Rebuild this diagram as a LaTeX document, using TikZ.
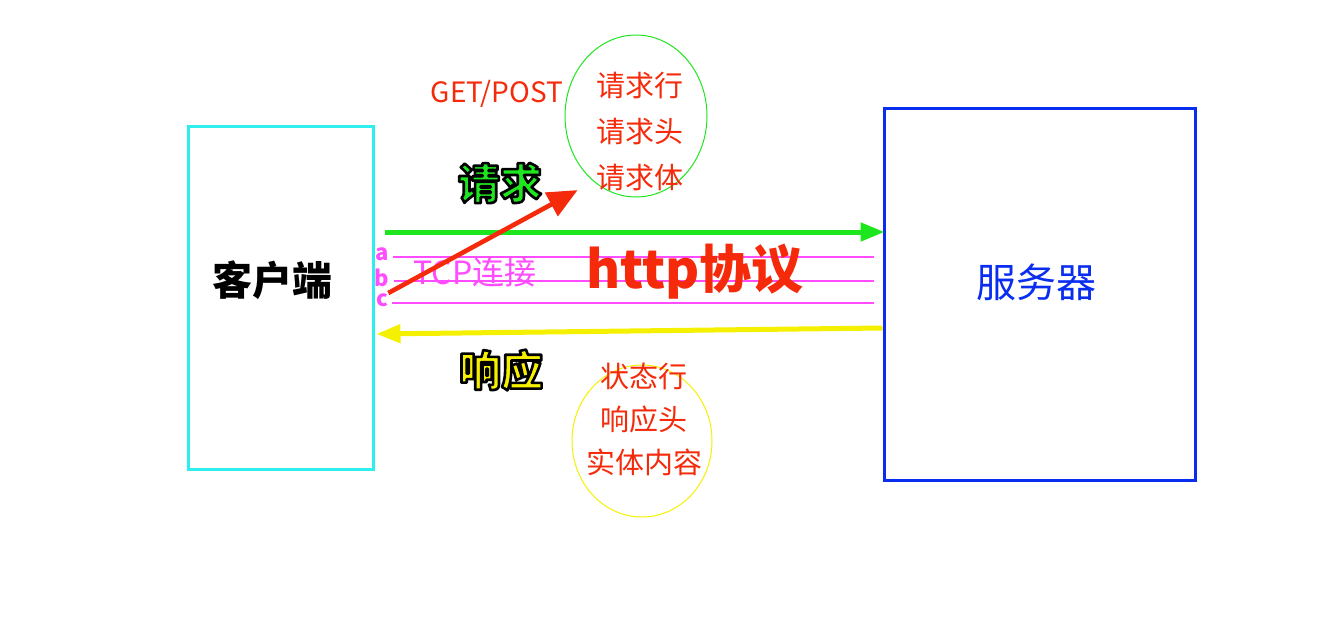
\documentclass[tikz,border=0pt]{standalone}
\usepackage{fontspec}
\setmainfont{Noto Sans CJK SC}
\usetikzlibrary{arrows.meta,positioning,shapes.geometric}
\definecolor{clientcol}{HTML}{2EEEEE}
\definecolor{servercol}{HTML}{0A2EF0}
\definecolor{reqgreen}{HTML}{1EE61E}
\definecolor{respyellow}{HTML}{F5F000}
\definecolor{msgred}{HTML}{F52A0A}
\definecolor{tcppink}{HTML}{FF4CFF}
% filled text with a black stroke round each glyph
\newcommand{\outlined}[2]{\textcolor{#1}{\special{pdf:literal direct 0 0 0 RG 1.3 w 1 j 2 Tr}#2\special{pdf:literal direct 0 Tr}}}

\begin{document}
\begin{tikzpicture}[
  x=.5pt,y=-.5pt,
  party/.style={draw=#1,line width=1.5pt,inner sep=0pt},
  partname/.style={font=\fontsize{20}{24}\selectfont},
  parts/.style={ellipse,draw=#1,line width=.5pt,inner sep=0pt},
  partlist/.style={font=\fontsize{14.5}{#1}\selectfont,text=msgred,align=center},
  bigarrow/.style={-{Triangle[length=12pt,width=9pt]},draw=#1,line width=2.5pt},
  tcpline/.style={draw=tcppink,line width=.6pt,shorten >=4.5pt},
  tcplabel/.style={font=\fontsize{11}{12}\selectfont\bfseries,text=tcppink,inner sep=0pt},
  verb/.style={font=\fontsize{21}{24}\selectfont\bfseries}
]
\useasboundingbox (0,0) rectangle (1343,621);

% client and server
\node[party=clientcol,minimum width=92.5pt,minimum height=171.5pt] (client) at (280.5,297.5) {};
\node[font=\fontsize{20}{24}\selectfont\bfseries] (clientname) at (272,280) {客户端};
\node[party=servercol,minimum width=155.5pt,minimum height=186pt] (server) at (1039.5,294) {};
\node[partname,text=servercol] (servername) at (1036,282) {服务器};

% request / response arrows
\draw[bigarrow=reqgreen] ([xshift=5pt,yshift=32.75pt]client.east) -- ([xshift=1pt,yshift=31pt]server.west);
\draw[bigarrow=respyellow] ([yshift=-17pt]server.west) -- ([xshift=1pt,yshift=-18.25pt]client.east);
\node[verb] (req) at (500,183) {\outlined{reqgreen}{请求}};
\node[verb] (resp) at (501,370) {\outlined{respyellow}{响应}};

% TCP connection lines
\foreach \l/\y in {a/254,b/278,c/300}{
  \node[tcplabel] (l\l) at (382,\y) {\l};
  \draw[tcpline] ([xshift=2pt,yshift=-1.5pt]l\l.east) -- ([yshift=-1.5pt]l\l.east -| server.west);
}
\node[font=\fontsize{16}{18}\selectfont,text=tcppink] (tcp) at (475,272) {TCP连接};
\node[font=\fontsize{26}{30}\selectfont\bfseries,text=msgred] (http) at (695,272) {http协议};

% request message parts
\node[parts=reqgreen,minimum width=71pt,minimum height=81pt] (reqparts) at (636,116) {};
\node[partlist=23pt] (reqlist) at (640,131) {请求行\\请求头\\请求体};
\node[font=\fontsize{14}{16}\selectfont,text=msgred] (method) at (497,94) {GET/POST};
\draw[-{Triangle[length=15pt,width=13pt]},draw=msgred,fill=msgred,line width=2.3pt,shorten >=9pt]
  (lc.north east) -- (reqparts.237);

% response message parts
\node[parts=respyellow,minimum width=70pt,minimum height=76pt] (respparts) at (642,441) {};
\node[partlist=21.5pt] (resplist) at (644,419) {状态行\\响应头\\实体内容};

\end{tikzpicture}
\end{document}
